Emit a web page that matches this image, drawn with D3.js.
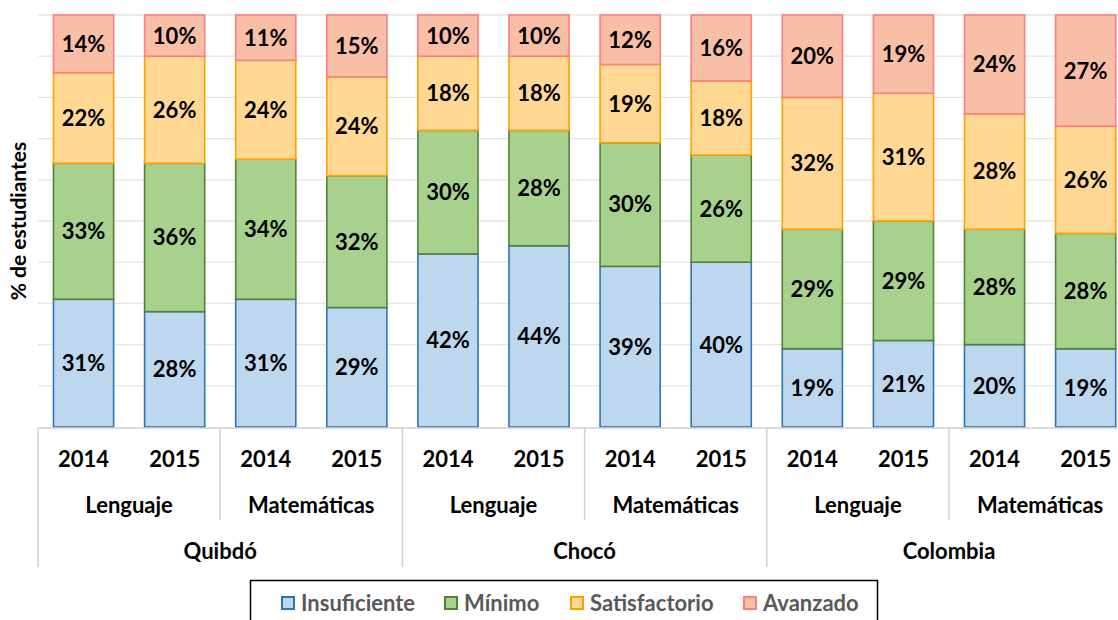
<!DOCTYPE html>
<html>
<head>
<meta charset="utf-8">
<script src="https://cdn.jsdelivr.net/npm/d3@7"></script>
<style>
  body { margin: 0; background: #fff; }
  svg { display: block; font-family: Lato, "Open Sans", sans-serif; }
</style>
</head>
<body>
<div id="chart"></div>
<script>
// Data
var regions = ['Quibdó', 'Chocó', 'Colombia'];
var subjects = ['Lenguaje', 'Matemáticas'];
var years = ['2014', '2015'];
var levels = ['Insuficiente', 'Mínimo', 'Satisfactorio', 'Avanzado'];

var insuficiente = [31, 28, 31, 29, 42, 44, 39, 40, 19, 21, 20, 19];
var minimo       = [33, 36, 34, 32, 30, 28, 30, 26, 29, 29, 28, 28];
var satisfactorio = [22, 26, 24, 24, 18, 18, 19, 18, 32, 31, 28, 26];
var avanzado     = [14, 10, 11, 15, 10, 10, 12, 16, 20, 19, 24, 27];

var fills = ['#BDD7EE', '#A9D18E', '#FFD994', '#F9BFA6'];
var strokes = ['#2E75B6', '#548235', '#FFA000', '#FF7C80'];

var width = 1118, height = 620;
var margin = { top: 15, left: 38 };
var plotBottom = 427;
var step = 91.1;

// one row per bar
var rows = [];
regions.forEach(function(r) {
  subjects.forEach(function(s) {
    years.forEach(function(y) {
      var i = rows.length;
      rows.push({
        key: r + '|' + s + '|' + y, region: r, subject: s, year: y,
        Insuficiente: insuficiente[i], 'Mínimo': minimo[i],
        Satisfactorio: satisfactorio[i], Avanzado: avanzado[i]
      });
    });
  });
});

var svg = d3.select('#chart').append('svg')
  .attr('width', width)
  .attr('height', height);

var x = d3.scaleBand()
  .domain(rows.map(function(d) { return d.key; }))
  .range([margin.left, margin.left + step * rows.length])
  .paddingInner(0.34)
  .paddingOuter(0.17);

var y = d3.scaleLinear()
  .domain([0, 100])
  .range([plotBottom, margin.top]);

// gridlines
svg.append('g')
  .selectAll('line')
  .data(d3.range(10, 101, 10))
  .join('line')
    .attr('x1', margin.left)
    .attr('x2', width)
    .attr('y1', function(d) { return y(d); })
    .attr('y2', function(d) { return y(d); })
    .attr('stroke', '#e4e4e4')
    .attr('stroke-width', 1.3);

var series = d3.stack().keys(levels)(rows);

var layers = svg.append('g')
  .selectAll('g')
  .data(series)
  .join('g')
    .attr('fill', function(d, i) { return fills[i]; })
    .attr('stroke', function(d, i) { return strokes[i]; });

layers.selectAll('rect')
  .data(function(d) { return d; })
  .join('rect')
    .attr('x', function(d) { return x(d.data.key); })
    .attr('width', x.bandwidth())
    .attr('y', function(d) { return y(d[1]); })
    .attr('height', function(d) { return y(d[0]) - y(d[1]); })
    .attr('stroke-width', 1.6);

// value labels
var labels = svg.append('g')
  .attr('font-size', 22)
  .attr('font-weight', 'bold')
  .attr('fill', '#000')
  .attr('text-anchor', 'middle');

series.forEach(function(s) {
  labels.selectAll(null)
    .data(s)
    .enter()
    .append('text')
      .attr('x', function(d) { return x(d.data.key) + x.bandwidth() / 2; })
      .attr('y', function(d) { return (y(d[0]) + y(d[1])) / 2; })
      .attr('dy', '0.36em')
      .text(function(d) { return (d[1] - d[0]) + '%'; });
});

// category axis (multi-level)
var axis = svg.append('g');
var axisColor = '#d0d0d0';
var x0 = margin.left;

axis.append('line')
  .attr('x1', x0).attr('x2', width)
  .attr('y1', plotBottom + 1).attr('y2', plotBottom + 1)
  .attr('stroke', axisColor).attr('stroke-width', 1.5);

// separators: full height between regions, half between subjects
for (var k = 0; k <= rows.length; k += 2) {
  var xs = x0 + k * step;
  var full = k % 4 === 0;
  axis.append('line')
    .attr('x1', xs).attr('x2', xs)
    .attr('y1', plotBottom + 1)
    .attr('y2', full ? 567 : 520)
    .attr('stroke', axisColor).attr('stroke-width', 1.5);
}

var axisText = axis.append('g')
  .attr('font-size', 22)
  .attr('font-weight', 'bold')
  .attr('fill', '#000')
  .attr('text-anchor', 'middle');

axisText.selectAll('text.year')
  .data(rows)
  .join('text')
    .attr('class', 'year')
    .attr('x', function(d) { return x(d.key) + x.bandwidth() / 2; })
    .attr('y', 459)
    .attr('dy', '0.36em')
    .text(function(d) { return d.year; });

var subjectRows = rows.filter(function(d, i) { return i % 2 === 0; });
axisText.selectAll('text.subject')
  .data(subjectRows)
  .join('text')
    .attr('class', 'subject')
    .attr('x', function(d, i) { return x0 + (i * 2 + 1) * step; })
    .attr('y', 505)
    .attr('dy', '0.36em')
    .text(function(d) { return d.subject; });

axisText.selectAll('text.region')
  .data(regions)
  .join('text')
    .attr('class', 'region')
    .attr('x', function(d, i) { return x0 + (i * 4 + 2) * step; })
    .attr('y', 551)
    .attr('dy', '0.36em')
    .text(function(d) { return d; });

// y axis title
svg.append('text')
  .attr('transform', 'translate(26,' + ((plotBottom + margin.top) / 2) + ') rotate(-90)')
  .attr('text-anchor', 'middle')
  .attr('font-size', 21)
  .attr('font-weight', 'bold')
  .text('% de estudiantes');

// legend
var legend = svg.append('g');
legend.append('rect')
  .attr('x', 250.5).attr('y', 580.5)
  .attr('width', 627).attr('height', 60)
  .attr('fill', '#fff')
  .attr('stroke', '#000')
  .attr('stroke-width', 1.5);

var legendX = [282, 445, 571, 744];
var items = legend.selectAll('g.item')
  .data(levels)
  .join('g')
    .attr('class', 'item')
    .attr('transform', function(d, i) { return 'translate(' + legendX[i] + ',597)'; });

items.append('rect')
  .attr('width', 12).attr('height', 12)
  .attr('fill', function(d, i) { return fills[i]; })
  .attr('stroke', function(d, i) { return strokes[i]; })
  .attr('stroke-width', 2);

items.append('text')
  .attr('x', 19)
  .attr('y', 6)
  .attr('dy', '0.36em')
  .attr('font-size', 22)
  .attr('font-weight', 'bold')
  .attr('fill', '#595959')
  .text(function(d) { return d; });
</script>
</body>
</html>
